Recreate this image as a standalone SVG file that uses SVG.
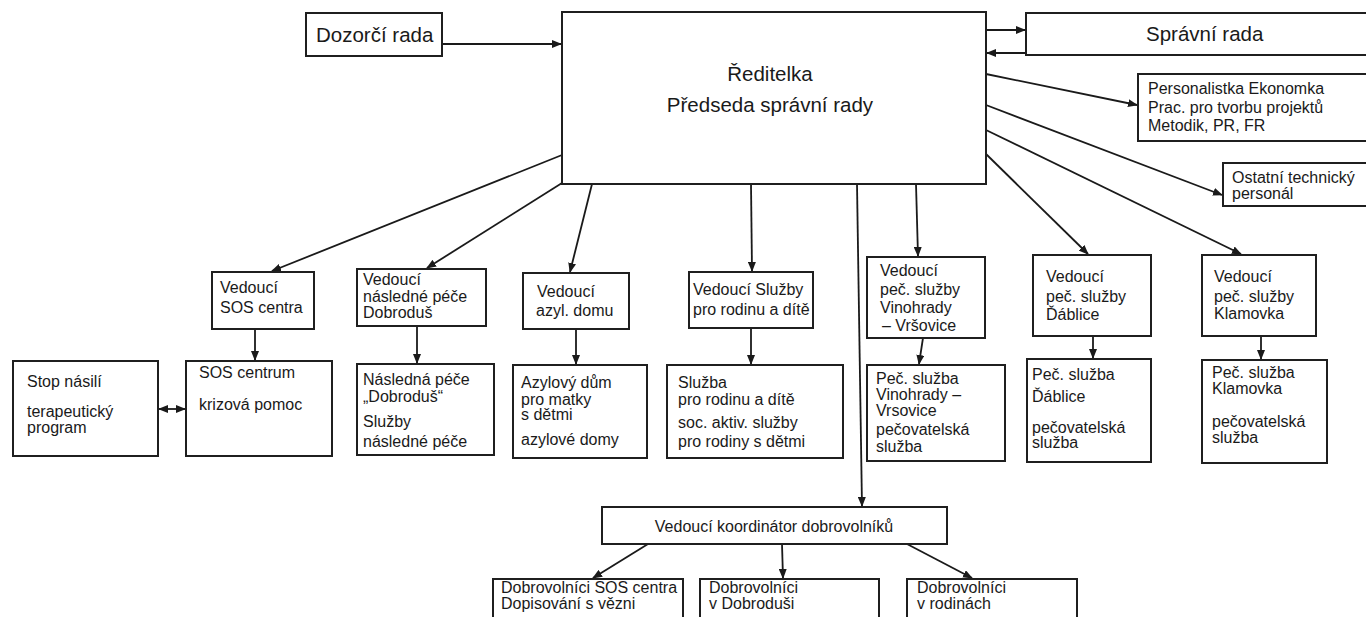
<svg xmlns="http://www.w3.org/2000/svg" width="1366" height="617" viewBox="0 0 1366 617">
<defs>
<marker id="ah" markerUnits="userSpaceOnUse" markerWidth="10" markerHeight="8" refX="9" refY="4" orient="auto">
<path d="M0,0 L10,4 L0,8 z" fill="#1a1a1a"/>
</marker>
<marker id="ahs" markerUnits="userSpaceOnUse" markerWidth="10" markerHeight="8" refX="1" refY="4" orient="auto">
<path d="M10,0 L0,4 L10,8 z" fill="#1a1a1a"/>
</marker>
<style>
rect{fill:#fff;stroke:#1f1f1f;stroke-width:2}
text{font-family:"Liberation Sans",Arial,sans-serif;font-size:16px;fill:#1a1a1a}
.big{font-size:20.5px}
.c{text-anchor:middle}
#connectors line{stroke:#1a1a1a;stroke-width:1.8;fill:none}
.a{marker-end:url(#ah)}
</style>
</defs>
<rect x="0" y="0" width="1366" height="617" style="fill:#fff;stroke:none"/>

<g id="connectors">
<line class="a" x1="443" y1="44" x2="561" y2="44"/>
<line class="a" x1="987" y1="30" x2="1025" y2="30"/>
<line class="a" x1="1025" y1="53" x2="987" y2="53"/>
<line class="a" x1="986" y1="74" x2="1137" y2="105"/>
<line class="a" x1="986" y1="105" x2="1222" y2="195"/>
<line class="a" x1="986" y1="130" x2="1241" y2="254"/>
<line class="a" x1="986" y1="154" x2="1088" y2="254"/>
<line class="a" x1="916" y1="184" x2="918" y2="256"/>
<line class="a" x1="562" y1="155" x2="272" y2="271"/>
<line class="a" x1="562" y1="183" x2="427" y2="268"/>
<line class="a" x1="592" y1="184" x2="570" y2="272"/>
<line class="a" x1="751" y1="184" x2="752" y2="271"/>
<line class="a" x1="857" y1="184" x2="862" y2="506"/>
<line class="a" x1="255" y1="329" x2="255" y2="360"/>
<line class="a" x1="417" y1="326" x2="417" y2="363"/>
<line class="a" x1="576" y1="329" x2="576" y2="364"/>
<line class="a" x1="751" y1="328" x2="751" y2="364"/>
<line class="a" x1="923" y1="338" x2="919" y2="364"/>
<line class="a" x1="1093" y1="336" x2="1093" y2="358"/>
<line class="a" x1="1261" y1="336" x2="1261" y2="359"/>
<line x1="159" y1="409" x2="185" y2="409" style="marker-end:url(#ah);marker-start:url(#ahs)"/>
<line class="a" x1="648" y1="544" x2="593" y2="578"/>
<line class="a" x1="782" y1="544" x2="783" y2="578"/>
<line class="a" x1="907" y1="544" x2="972" y2="578"/>
</g>

<g id="dozorci">
<rect x="306" y="13" width="136" height="43"/>
<text class="big" x="316" y="42">Dozorčí rada</text>
</g>
<g id="reditelka">
<rect x="562" y="12" width="424" height="172"/>
<text class="big c" x="770" y="81">Ředitelka</text>
<text class="big c" x="770" y="112">Předseda správní rady</text>
</g>
<g id="spravni">
<rect x="1026" y="13" width="345" height="42"/>
<text class="big" x="1146" y="41">Správní rada</text>
</g>
<g id="personalistka">
<rect x="1138" y="74" width="233" height="67"/>
<text x="1148" y="94">Personalistka Ekonomka</text>
<text x="1148" y="113">Prac. pro tvorbu projektů</text>
<text x="1148" y="131">Metodik, PR, FR</text>
</g>
<g id="ostatni">
<rect x="1223" y="163" width="148" height="43"/>
<text x="1232" y="183">Ostatní technický</text>
<text x="1232" y="199">personál</text>
</g>

<g id="ved-sos">
<rect x="212" y="272" width="102" height="57"/>
<text x="220" y="293">Vedoucí</text>
<text x="220" y="313">SOS centra</text>
</g>
<g id="ved-naslednne">
<rect x="357" y="269" width="129" height="57"/>
<text x="363" y="285">Vedoucí</text>
<text x="363" y="302">následné péče</text>
<text x="363" y="318">Dobroduš</text>
</g>
<g id="ved-azyl">
<rect x="523" y="273" width="106" height="56"/>
<text x="537" y="297">Vedoucí</text>
<text x="536" y="316">azyl. domu</text>
</g>
<g id="ved-sluzby">
<rect x="689" y="272" width="124" height="56"/>
<text x="693" y="295">Vedoucí Služby</text>
<text x="693" y="315">pro rodinu a dítě</text>
</g>
<g id="ved-vinohrady">
<rect x="867" y="257" width="118" height="81"/>
<text x="880" y="276">Vedoucí</text>
<text x="880" y="295">peč. služby</text>
<text x="880" y="313">Vinohrady</text>
<text x="882" y="331">– Vršovice</text>
</g>
<g id="ved-dablice">
<rect x="1033" y="255" width="118" height="81"/>
<text x="1046" y="282">Vedoucí</text>
<text x="1046" y="302">peč. služby</text>
<text x="1046" y="320">Ďáblice</text>
</g>
<g id="ved-klamovka">
<rect x="1202" y="255" width="114" height="81"/>
<text x="1214" y="282">Vedoucí</text>
<text x="1214" y="302">peč. služby</text>
<text x="1214" y="319">Klamovka</text>
</g>

<g id="stop-nasili">
<rect x="13" y="361" width="145" height="95"/>
<text x="27" y="387">Stop násilí</text>
<text x="27" y="417">terapeutický</text>
<text x="27" y="433">program</text>
</g>
<g id="sos-centrum">
<rect x="186" y="361" width="146" height="95"/>
<text x="199" y="378">SOS centrum</text>
<text x="199" y="410">krizová pomoc</text>
</g>
<g id="nasledna">
<rect x="357" y="364" width="137" height="91"/>
<text x="363" y="385">Následná péče</text>
<text x="363" y="402">„Dobroduš“</text>
<text x="363" y="427">Služby</text>
<text x="363" y="447">následné péče</text>
</g>
<g id="azylovy">
<rect x="513" y="365" width="134" height="93"/>
<text x="521" y="388">Azylový dům</text>
<text x="521" y="405">pro matky</text>
<text x="521" y="420">s dětmi</text>
<text x="521" y="445">azylové domy</text>
</g>
<g id="sluzba">
<rect x="667" y="365" width="176" height="93"/>
<text x="678" y="388">Služba</text>
<text x="678" y="405">pro rodinu a dítě</text>
<text x="678" y="428">soc. aktiv. služby</text>
<text x="678" y="447">pro rodiny s dětmi</text>
</g>
<g id="pec-vinohrady">
<rect x="867" y="365" width="138" height="96"/>
<text x="876" y="384">Peč. služba</text>
<text x="876" y="400">Vinohrady –</text>
<text x="876" y="416">Vrsovice</text>
<text x="876" y="435">pečovatelská</text>
<text x="876" y="452">služba</text>
</g>
<g id="pec-dablice">
<rect x="1027" y="359" width="124" height="103"/>
<text x="1032" y="380">Peč. služba</text>
<text x="1032" y="402">Ďáblice</text>
<text x="1032" y="433">pečovatelská</text>
<text x="1032" y="448">služba</text>
</g>
<g id="pec-klamovka">
<rect x="1202" y="360" width="125" height="103"/>
<text x="1212" y="378">Peč. služba</text>
<text x="1212" y="394">Klamovka</text>
<text x="1212" y="427">pečovatelská</text>
<text x="1212" y="443">služba</text>
</g>

<g id="koordinator">
<rect x="602" y="507" width="345" height="37"/>
<text class="c" x="774" y="532">Vedoucí koordinátor dobrovolníků</text>
</g>
<g id="dobr-sos">
<rect x="493" y="579" width="190" height="50"/>
<text x="501" y="593">Dobrovolníci SOS centra</text>
<text x="501" y="609">Dopisování s vězni</text>
</g>
<g id="dobr-dobrodus">
<rect x="700" y="579" width="179" height="50"/>
<text x="709" y="593">Dobrovolníci</text>
<text x="709" y="609">v Dobroduši</text>
</g>
<g id="dobr-rodiny">
<rect x="907" y="579" width="170" height="50"/>
<text x="917" y="593">Dobrovolníci</text>
<text x="917" y="609">v rodinách</text>
</g>
</svg>
